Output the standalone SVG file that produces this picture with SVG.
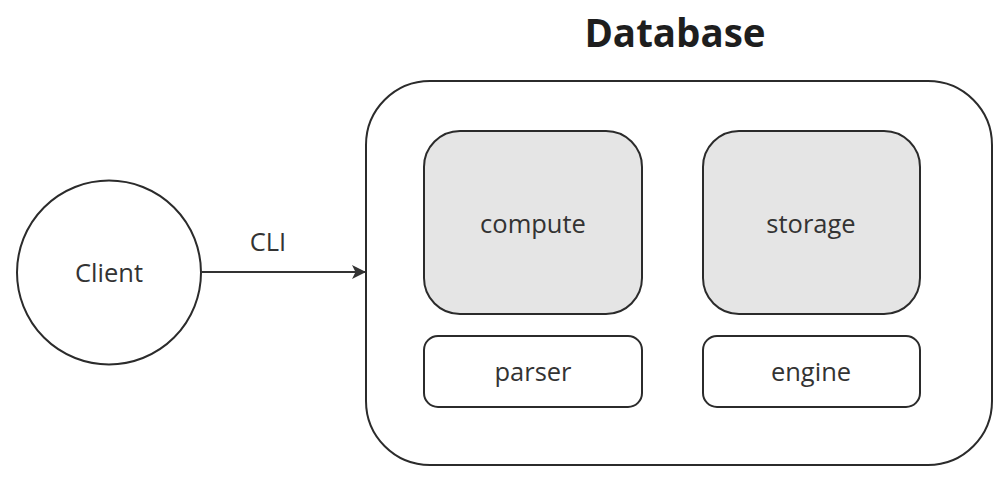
<svg xmlns="http://www.w3.org/2000/svg" width="1008" height="488" viewBox="0 0 1008 488">
<defs>
<style>
.shape{fill:#ffffff;stroke:#2b2b2b;stroke-width:2}
.grey{fill:#e5e5e5}
.lbl{font-family:"Open Sans","Noto Sans",sans-serif;font-size:25.5px;fill:#333333;text-anchor:middle}
.title{font-family:"Open Sans","Noto Sans",sans-serif;font-size:38.5px;font-weight:bold;fill:#1e1e1e;text-anchor:middle}
.conn{stroke:#333333;stroke-width:2;fill:none}
</style>
<marker id="arrow" viewBox="0 0 14 14" refX="13" refY="7" markerWidth="14" markerHeight="14" markerUnits="userSpaceOnUse" orient="auto">
<path d="M0,0 L14,7 L0,14 L3.5,7 Z" fill="#333333"/>
</marker>
</defs>
<rect width="1008" height="488" fill="#ffffff"/>
<text class="title" x="675" y="47">Database</text>
<g id="database">
<rect class="shape" x="366" y="81" width="626" height="384" rx="64" ry="64"/>
</g>
<g id="compute">
<rect class="shape grey" x="424" y="131" width="218" height="183" rx="36" ry="36"/>
<text class="lbl" x="533" y="233">compute</text>
</g>
<g id="storage">
<rect class="shape grey" x="703" y="131" width="217" height="183" rx="36" ry="36"/>
<text class="lbl" x="811" y="233">storage</text>
</g>
<g id="parser">
<rect class="shape" x="424" y="336" width="218" height="71" rx="14" ry="14"/>
<text class="lbl" x="533" y="381">parser</text>
</g>
<g id="engine">
<rect class="shape" x="703" y="336" width="217" height="71" rx="14" ry="14"/>
<text class="lbl" x="811" y="381">engine</text>
</g>
<g id="client">
<circle class="shape" cx="109" cy="272.5" r="92"/>
<text class="lbl" x="109" y="282">Client</text>
</g>
<g id="connectors">
<line class="conn" x1="201" y1="272" x2="365" y2="272" marker-end="url(#arrow)"/>
<text class="lbl" x="268" y="251">CLI</text>
</g>
</svg>
